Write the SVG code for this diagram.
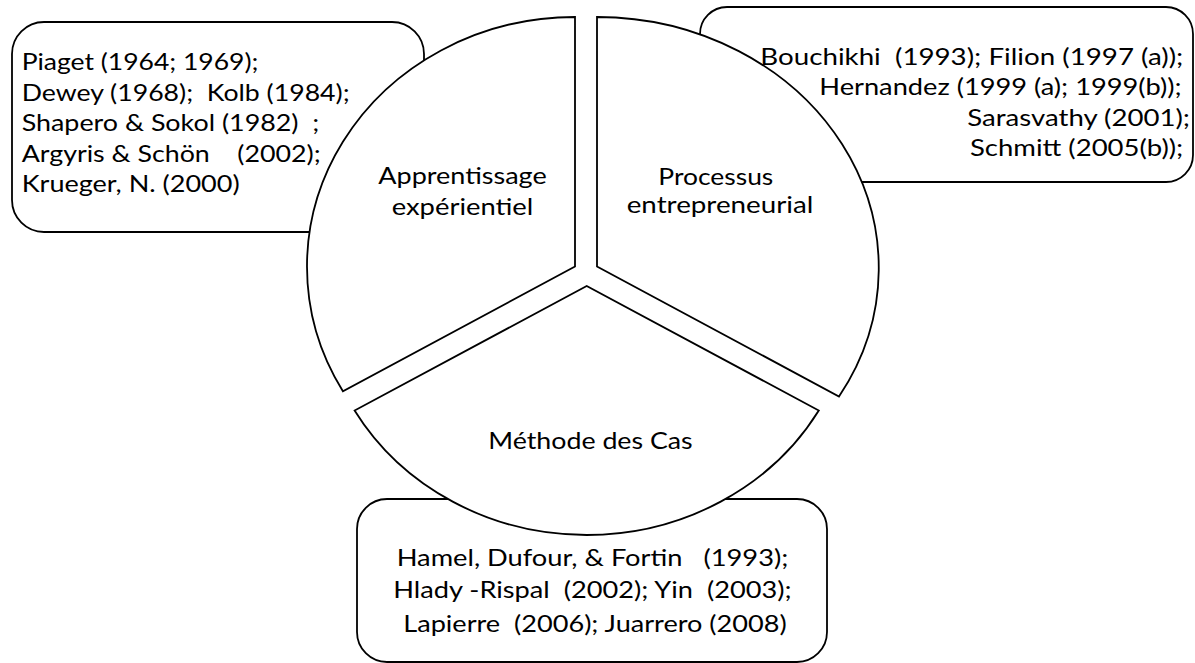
<svg xmlns="http://www.w3.org/2000/svg" width="1195" height="663" viewBox="0 0 1195 663">
<style>
.box{fill:#fff;stroke:#000;stroke-width:1.8}
.sec{fill:#fff;stroke:#000;stroke-width:1.8;stroke-linejoin:miter}
text{font-family:Lato,"Open Sans","Liberation Sans",sans-serif;font-size:24px;fill:#000}
</style>
<rect width="1195" height="663" fill="#fff"/>
<g id="box-apprentissage">
<rect class="box" x="12" y="22" width="412" height="210" rx="32" ry="32"/>
<text xml:space="preserve" x="21.7" y="70" textLength="236.7" lengthAdjust="spacingAndGlyphs">Piaget (1964; 1969);</text>
<text xml:space="preserve" x="21.7" y="100.5" textLength="328" lengthAdjust="spacingAndGlyphs">Dewey (1968);  Kolb (1984);</text>
<text xml:space="preserve" x="21.7" y="131" textLength="297.6" lengthAdjust="spacingAndGlyphs">Shapero &amp; Sokol (1982)  ;</text>
<text xml:space="preserve" x="21.7" y="161.5" textLength="299" lengthAdjust="spacingAndGlyphs">Argyris &amp; Schön    (2002);</text>
<text xml:space="preserve" x="21.7" y="192" textLength="218" lengthAdjust="spacingAndGlyphs">Krueger, N. (2000)</text>
</g>
<g id="box-processus">
<rect class="box" x="700" y="7" width="493" height="175" rx="27" ry="27"/>
<text xml:space="preserve" x="760.3" y="65" textLength="423" lengthAdjust="spacingAndGlyphs">Bouchikhi  (1993); Filion (1997 (a));</text>
<text xml:space="preserve" x="819.3" y="95" textLength="362.4" lengthAdjust="spacingAndGlyphs">Hernandez (1999 (a); 1999(b));</text>
<text xml:space="preserve" x="967.3" y="125.5" textLength="222.7" lengthAdjust="spacingAndGlyphs">Sarasvathy (2001);</text>
<text xml:space="preserve" x="970" y="156" textLength="213.3" lengthAdjust="spacingAndGlyphs">Schmitt (2005(b));</text>
</g>
<g id="box-methode">
<rect class="box" x="357" y="499" width="470" height="163" rx="30" ry="30"/>
<text xml:space="preserve" x="396.7" y="565.5" textLength="391.7" lengthAdjust="spacingAndGlyphs">Hamel, Dufour, &amp; Fortin   (1993);</text>
<text xml:space="preserve" x="393.3" y="598.3" textLength="398.4" lengthAdjust="spacingAndGlyphs">Hlady -Rispal  (2002); Yin  (2003);</text>
<text xml:space="preserve" x="403.3" y="631.7" textLength="383.4" lengthAdjust="spacingAndGlyphs">Lapierre  (2006); Juarrero (2008)</text>
</g>
<g id="connectors"></g>
<g id="sector-apprentissage">
<path class="sec" d="M575,266.5 L575,17 A268 249.5 0 0 0 342.9,391.25 Z"/>
<text x="378.3" y="184.3" textLength="168.4" lengthAdjust="spacingAndGlyphs">Apprentissage</text>
<text x="391.7" y="215" textLength="141.6" lengthAdjust="spacingAndGlyphs">expérientiel</text>
</g>
<g id="sector-processus">
<path class="sec" d="M597,266.5 L597,17 A282 251 0 0 1 839,396.5 Z"/>
<text x="658.3" y="185" textLength="115" lengthAdjust="spacingAndGlyphs">Processus</text>
<text x="626.7" y="213.3" textLength="186.6" lengthAdjust="spacingAndGlyphs">entrepreneurial</text>
</g>
<g id="sector-methode">
<path class="sec" d="M586.7,286 L354.6,410.5 A268 249 0 0 0 818.8,410.5 Z"/>
<text x="488.3" y="449" textLength="204.4" lengthAdjust="spacingAndGlyphs">Méthode des Cas</text>
</g>
</svg>
